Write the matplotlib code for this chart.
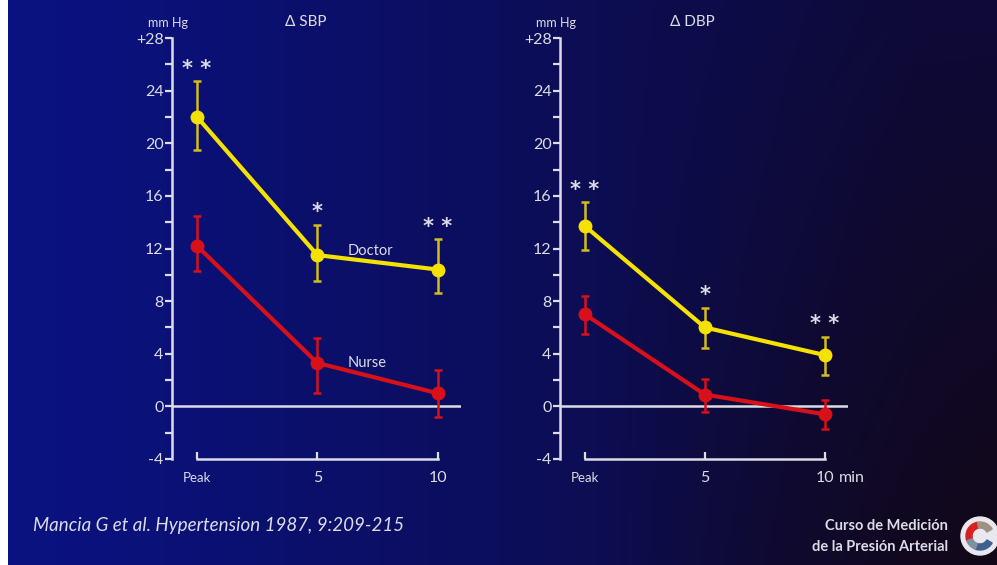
import matplotlib
matplotlib.use('Agg')
import matplotlib.pyplot as plt
import numpy as np
from matplotlib.patches import Circle, Wedge

# time points: Peak, 5, 10 min
times = [0, 5, 10]
xlabels = ['Peak', '5', '10']

sbp_doctor = [22.0, 11.5, 10.4]
sbp_doctor_lo = [19.5, 9.5, 8.6]
sbp_doctor_hi = [24.7, 13.8, 12.7]
sbp_nurse = [12.2, 3.3, 1.0]
sbp_nurse_lo = [10.3, 1.0, -0.8]
sbp_nurse_hi = [14.5, 5.2, 2.8]

dbp_doctor = [13.7, 6.0, 3.9]
dbp_doctor_lo = [11.9, 4.4, 2.4]
dbp_doctor_hi = [15.5, 7.5, 5.3]
dbp_nurse = [7.0, 0.9, -0.6]
dbp_nurse_lo = [5.5, -0.4, -1.7]
dbp_nurse_hi = [8.4, 2.1, 0.5]

sbp_stars = ['* *', '*', '* *']
dbp_stars = ['* *', '*', '* *']

yticks = [-4, 0, 4, 8, 12, 16, 20, 24, 28]
ylabels = ['-4', '0', '4', '8', '12', '16', '20', '24', '+28']

W, H = 997, 565
YELLOW = '#f6e200'
YELLOW_ERR = '#d2bd1a'
RED = '#d8101a'
FG = '#dcdce6'
plt.rcParams['font.family'] = ['Lato', 'DejaVu Sans']

fig = plt.figure(figsize=(W / 100, H / 100), dpi=100)
fig.patch.set_facecolor('white')

# background gradient (blue on the left, near black bottom right)
bg = fig.add_axes([8 / W, 0, 1 - 8 / W, 1])
bg.set_axis_off()
gx = np.linspace(0, 1, 200)[None, :]
gy = np.linspace(0, 1, 120)[:, None]
left = np.array([10, 18, 128]) / 255
right = np.array([14, 10, 56]) / 255
dark = np.array([18, 8, 24]) / 255
t = np.clip((gx - 0.05) * 1.15, 0, 1)[..., None]
img = left * (1 - t) + right * t
d = np.clip((gx - 0.6) / 0.4, 0, 1) * np.clip(gy, 0, 1)
img = img * (1 - d[..., None]) + dark * d[..., None]
bg.imshow(img, aspect='auto', extent=[0, 1, 0, 1], origin='upper')
bg.set_xlim(0, 1)
bg.set_ylim(0, 1)


def panel(left_px, width_px, doc, doc_lo, doc_hi, nur, nur_lo, nur_hi, stars,
          title, unit_label, labels=False, unit_x=None):
    y_top, y_bot = 38, 459
    ax = fig.add_axes([left_px / W, (H - y_bot) / H, width_px / W, (y_bot - y_top) / H])
    ax.set_facecolor('none')
    ax.set_xlim(-1.04, 10.97)
    ax.set_ylim(-4, 28)
    for s in ['top', 'right']:
        ax.spines[s].set_visible(False)
    ax.spines['left'].set_color(FG)
    ax.spines['bottom'].set_color(FG)
    ax.spines['left'].set_linewidth(1.8)
    ax.spines['bottom'].set_linewidth(1.8)
    ax.spines['bottom'].set_bounds(0, 10)
    ax.set_yticks(yticks)
    ax.set_yticklabels(ylabels)
    ax.set_yticks(np.arange(-2, 28, 4), minor=True)
    ax.tick_params(axis='y', which='both', colors=FG, length=5, width=1.6,
                   labelsize=11.5, pad=1)
    ax.set_xticks(times)
    ax.set_xticklabels(xlabels)
    ax.tick_params(axis='x', colors=FG, direction='in', length=5, width=1.6,
                   labelsize=11.5, pad=9)
    ax.get_xticklabels()[0].set_fontsize(9.5)
    if unit_x:
        ax.annotate(unit_x, xy=(10, 0), xycoords=('data', 'axes fraction'),
                    xytext=(10, -8.5), textcoords='offset points', ha='left',
                    va='top', color=FG, fontsize=11.5)
    ax.axhline(0, color=FG, lw=1.8, zorder=1)

    nlo = np.array(nur) - np.array(nur_lo)
    nhi = np.array(nur_hi) - np.array(nur)
    ax.errorbar(times, nur, yerr=[nlo, nhi], color=RED, ecolor=RED, lw=3,
                elinewidth=1.8, capsize=3, capthick=1.8, marker='o', ms=9, zorder=3)
    dlo = np.array(doc) - np.array(doc_lo)
    dhi = np.array(doc_hi) - np.array(doc)
    ax.errorbar(times, doc, yerr=[dlo, dhi], color=YELLOW, ecolor=YELLOW_ERR, lw=3,
                elinewidth=1.8, capsize=3, capthick=1.8, marker='o', ms=9, zorder=4)
    for x, hi, st in zip(times, doc_hi, stars):
        ax.text(x, hi + 0.2, st, color=FG, ha='center', va='bottom',
                fontsize=15, fontweight='bold', family=['DejaVu Sans'])
    ax.text(-1.2, 28.7, unit_label, color=FG, ha='center', va='bottom', fontsize=9)
    ax.text(4.5, 28.7, title, color=FG, ha='center', va='bottom', fontsize=11)
    if labels:
        ax.text(7.2, 11.8, 'Doctor', color=FG, ha='center', va='center', fontsize=10.5)
        ax.text(7.05, 3.3, 'Nurse', color=FG, ha='center', va='center', fontsize=10.5)
    return ax


panel(172, 289, sbp_doctor, sbp_doctor_lo, sbp_doctor_hi, sbp_nurse,
      sbp_nurse_lo, sbp_nurse_hi, sbp_stars, '\u0394 SBP', 'mm Hg', labels=True)
panel(560, 288, dbp_doctor, dbp_doctor_lo, dbp_doctor_hi, dbp_nurse,
      dbp_nurse_lo, dbp_nurse_hi, dbp_stars, '\u0394 DBP', 'mm Hg', unit_x='min')

fig.text(33 / W, 1 - 525 / H, 'Mancia G et al. Hypertension 1987, 9:209-215',
         color=FG, fontsize=13.5, style='italic', ha='left', va='center')
fig.text(948 / W, 1 - 526 / H, 'Curso de Medici\u00f3n', color=FG, fontsize=10.5,
         fontweight='bold', ha='right', va='center')
fig.text(948 / W, 1 - 547 / H, 'de la Presi\u00f3n Arterial', color=FG, fontsize=10.5,
         fontweight='bold', ha='right', va='center')

# small round logo, bottom right
logo = fig.add_axes([960 / W, 1 - 556 / H, 40 / W, 40 / H])
logo.set_axis_off()
logo.set_xlim(-1, 1)
logo.set_ylim(-1, 1)
logo.set_aspect('equal')
logo.add_patch(Circle((0, 0), 0.95, color='#e8e8ee'))
logo.add_patch(Wedge((0, 0), 0.7, 100, 200, width=0.3, color='#d82020'))
logo.add_patch(Wedge((0, 0), 0.7, 30, 100, width=0.3, color='#a09080'))
logo.add_patch(Wedge((0, 0), 0.7, 250, 330, width=0.3, color='#406090'))
logo.add_patch(Wedge((0, 0), 0.7, 200, 250, width=0.3, color='#8090a0'))

fig.savefig('out.png', dpi=100, facecolor=fig.get_facecolor())
